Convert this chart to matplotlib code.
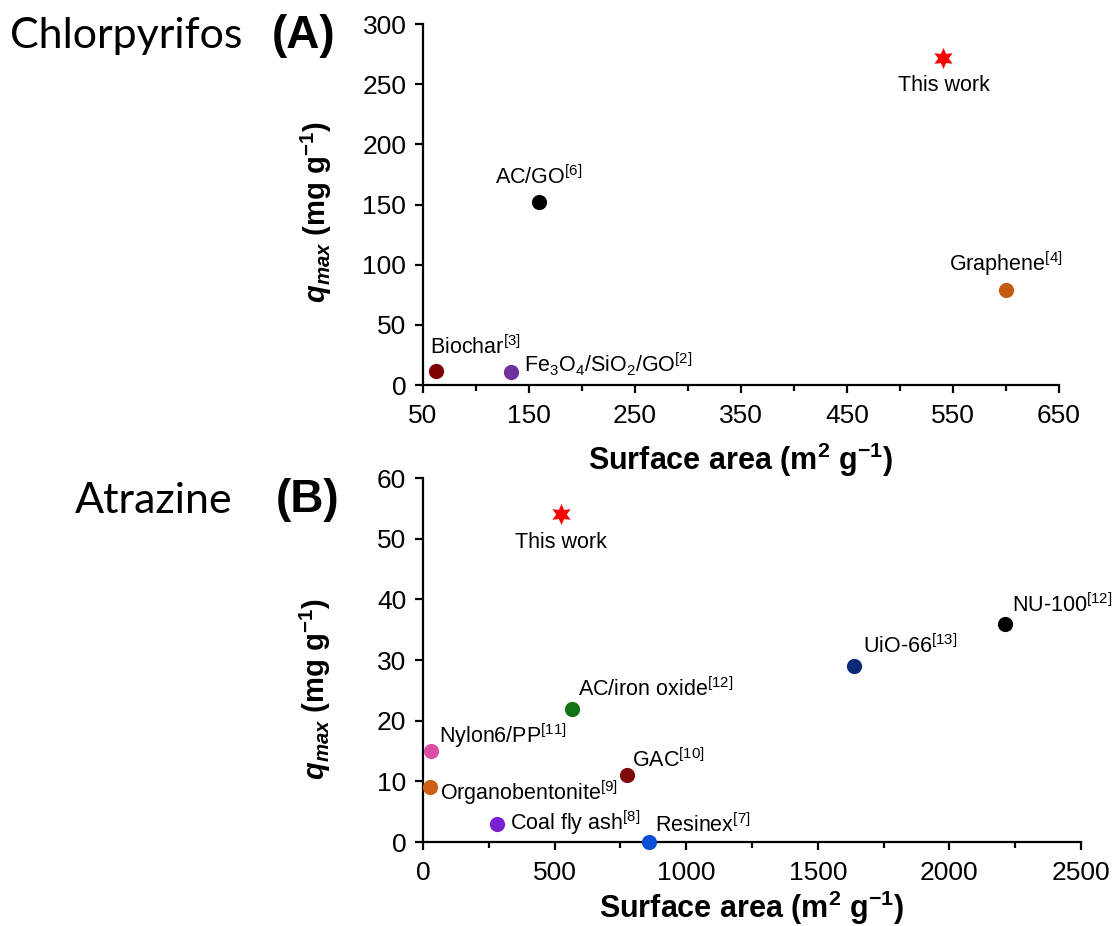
import matplotlib
matplotlib.use("Agg")
import matplotlib.pyplot as plt
import numpy as np

plt.rcParams["font.family"] = ["Liberation Sans", "DejaVu Sans"]
plt.rcParams["mathtext.fontset"] = "custom"
plt.rcParams["mathtext.rm"] = "Liberation Sans"
plt.rcParams["mathtext.it"] = "Liberation Sans:italic"
plt.rcParams["mathtext.bf"] = "Liberation Sans:bold"
plt.rcParams["mathtext.bfit"] = "Liberation Sans:italic:bold"

# (A) chlorpyrifos
A_LABELS = ["Biochar$^{[3]}$", "Fe$_3$O$_4$/SiO$_2$/GO$^{[2]}$", "AC/GO$^{[6]}$", "Graphene$^{[4]}$"]
A_AREA = [62, 133, 159, 600]
A_QMAX = [12, 11, 152, 79]
A_COLORS = ["#800000", "#7030A0", "#000000", "#C55A11"]
A_THIS_AREA = 541
A_THIS_QMAX = 272

# (B) atrazine
B_LABELS = ["Nylon6/PP$^{[11]}$", "Organobentonite$^{[9]}$", "Coal fly ash$^{[8]}$",
            "AC/iron oxide$^{[12]}$", "GAC$^{[10]}$", "Resinex$^{[7]}$",
            "UiO-66$^{[13]}$", "NU-100$^{[12]}$"]
B_AREA = [29, 27, 282, 566, 774, 860, 1639, 2211]
B_QMAX = [15, 9, 3, 22, 11, 0, 29, 36]
B_COLORS = ["#D94FA5", "#CC5F14", "#7A1FD2", "#127312", "#800A0A", "#0A4FD6", "#0A2A78", "#000000"]
B_THIS_AREA = 524
B_THIS_QMAX = 54

# label placement (offset in points from the marker, horizontal alignment)
A_OFFSETS = [(-4, 17, "left"), (9, 5, "left"), (0, 18, "center"), (0, 19, "center")]
B_OFFSETS = [(6, 11, "left"), (7, -4, "left"), (9, 1, "left"), (4, 14, "left"),
             (4, 11, "left"), (4, 12, "left"), (6, 14, "left"), (5, 13, "left")]

XLABEL = r"Surface area (m$^{\mathbf{2}}$ g$^{\mathbf{-1}}$)"
YLABEL = r"$\mathbfit{q}_{\mathbfit{max}}$ (mg g$^{\mathbf{-1}}$)"


def draw_panel(ax, labels, area, qmax, colors, offsets, this_area, this_qmax,
               xlim, xlabeled, xticks, ylim, yticks, ylabel_x, ylabel_y, xlabelpad):
    for name, x, y, c, (dx, dy, ha) in zip(labels, area, qmax, colors, offsets):
        ax.scatter(x, y, s=120, color=c, zorder=3, clip_on=False, linewidths=0)
        ax.annotate(name, (x, y), xytext=(dx, dy), textcoords="offset points",
                    ha=ha, va="center", fontsize=15.5)
    ax.scatter(this_area, this_qmax, s=230, marker=(6, 1, 0), color="#FF0000",
               zorder=3, clip_on=False, linewidths=0)
    ax.annotate("This work", (this_area, this_qmax), xytext=(0, -20),
                textcoords="offset points", ha="center", va="center", fontsize=15.5)

    ax.set_xlim(*xlim)
    ax.set_ylim(*ylim)
    ax.set_xticks(xlabeled)
    ax.set_xticks(xticks, minor=True)
    ax.set_yticks(yticks)
    ax.spines[["top", "right"]].set_visible(False)
    ax.spines[["left", "bottom"]].set_linewidth(1.6)
    ax.tick_params(which="major", direction="out", length=6, width=1.6, labelsize=19)
    ax.tick_params(axis="x", which="major", pad=8)
    ax.tick_params(axis="y", which="major", pad=6)
    ax.tick_params(which="minor", direction="out", length=4.5, width=1.6)
    ax.set_xlabel(XLABEL, fontsize=22, fontweight="bold", labelpad=xlabelpad)
    ax.set_ylabel(YLABEL, fontsize=21, fontweight="bold")
    ax.yaxis.set_label_coords(ylabel_x, ylabel_y)


fig = plt.figure(figsize=(11.15, 9.26), dpi=100)
ax_a = fig.add_axes([0.3794, 0.5842, 0.5704, 0.3898])
ax_b = fig.add_axes([0.3794, 0.0907, 0.5901, 0.3931])

draw_panel(ax_a, A_LABELS, A_AREA, A_QMAX, A_COLORS, A_OFFSETS, A_THIS_AREA, A_THIS_QMAX,
           (50, 650), np.arange(50, 651, 100), np.arange(100, 651, 100),
           (0, 300), np.arange(0, 301, 50), -0.14, 0.48, 9)
draw_panel(ax_b, B_LABELS, B_AREA, B_QMAX, B_COLORS, B_OFFSETS, B_THIS_AREA, B_THIS_QMAX,
           (0, 2500), np.arange(0, 2501, 500), np.arange(250, 2500, 500),
           (0, 60), np.arange(0, 61, 10), -0.137, 0.42, 2)

fig.text(0.009, 0.948, "Chlorpyrifos", fontsize=31, family=["Lato", "DejaVu Sans"])
fig.text(0.244, 0.948, "(A)", fontsize=33, fontweight="bold")
fig.text(0.067, 0.446, "Atrazine", fontsize=31, family=["Lato", "DejaVu Sans"])
fig.text(0.247, 0.447, "(B)", fontsize=33, fontweight="bold")

fig.savefig("out.png", dpi=100)
